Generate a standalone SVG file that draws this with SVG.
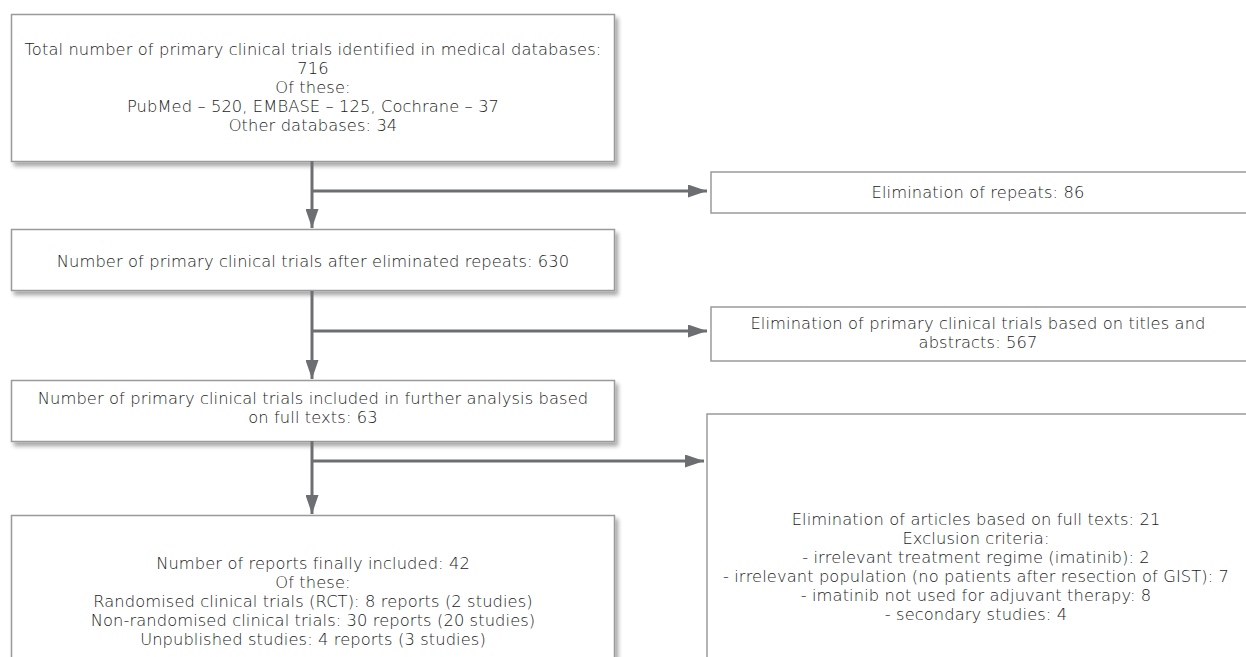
<svg xmlns="http://www.w3.org/2000/svg" width="1246" height="657" viewBox="0 0 1246 657">
<defs>
<filter id="sh" x="-5%" y="-10%" width="115%" height="130%">
<feGaussianBlur in="SourceAlpha" stdDeviation="2"/>
<feOffset dx="3" dy="4" result="b"/>
<feComponentTransfer><feFuncA type="linear" slope="0.35"/></feComponentTransfer>
<feMerge><feMergeNode/><feMergeNode in="SourceGraphic"/></feMerge>
</filter>
<marker id="ah" markerWidth="19" markerHeight="13" refX="19" refY="6.5" orient="auto" markerUnits="userSpaceOnUse">
<path d="M0,0 L19,6.5 L0,13 Z" fill="#6d6e71"/>
</marker>
<style>
.box{fill:#fff;stroke:#9a9a9a;stroke-width:1.5}
.t{font-family:"DejaVu Sans","Liberation Sans",sans-serif;font-weight:200;font-size:16.3px;letter-spacing:0.1px;fill:#1a1a1a;text-anchor:middle}
.c{fill:none;stroke:#6d6e71;stroke-width:3}
</style>
</defs>
<rect width="1246" height="657" fill="#fff"/>
<g id="n1">
<rect class="box" x="11.5" y="14.5" width="603" height="147" filter="url(#sh)"/>
<text class="t" x="313" y="55">Total number of primary clinical trials identified in medical databases:</text>
<text class="t" x="313" y="74">716</text>
<text class="t" x="313" y="93">Of these:</text>
<text class="t" x="313" y="112">PubMed – 520, EMBASE – 125, Cochrane – 37</text>
<text class="t" x="313" y="131">Other databases: 34</text>
</g>
<g id="r1">
<rect class="box" x="711" y="172" width="540" height="41"/>
<text class="t" x="978" y="198">Elimination of repeats: 86</text>
</g>
<g id="n2">
<rect class="box" x="11.5" y="229.5" width="603" height="61" filter="url(#sh)"/>
<text class="t" x="313" y="267">Number of primary clinical trials after eliminated repeats: 630</text>
</g>
<g id="r2">
<rect class="box" x="711" y="307" width="540" height="54"/>
<text class="t" x="978" y="329">Elimination of primary clinical trials based on titles and</text>
<text class="t" x="978" y="348">abstracts: 567</text>
</g>
<g id="n3">
<rect class="box" x="11.5" y="380.5" width="603" height="61" filter="url(#sh)"/>
<text class="t" x="313" y="404">Number of primary clinical trials included in further analysis based</text>
<text class="t" x="313" y="423">on full texts: 63</text>
</g>
<g id="r3">
<rect class="box" x="707" y="414" width="545" height="250"/>
<text class="t" x="976" y="525">Elimination of articles based on full texts: 21</text>
<text class="t" x="976" y="544">Exclusion criteria:</text>
<text class="t" x="976" y="563">- irrelevant treatment regime (imatinib): 2</text>
<text class="t" x="976" y="582">- irrelevant population (no patients after resection of GIST): 7</text>
<text class="t" x="976" y="601">- imatinib not used for adjuvant therapy: 8</text>
<text class="t" x="976" y="620">- secondary studies: 4</text>
</g>
<g id="n4">
<rect class="box" x="11.5" y="515.5" width="603" height="150" filter="url(#sh)"/>
<text class="t" x="313" y="569">Number of reports finally included: 42</text>
<text class="t" x="313" y="588">Of these:</text>
<text class="t" x="313" y="607">Randomised clinical trials (RCT): 8 reports (2 studies)</text>
<text class="t" x="313" y="626">Non-randomised clinical trials: 30 reports (20 studies)</text>
<text class="t" x="313" y="645">Unpublished studies: 4 reports (3 studies)</text>
</g>
<g id="connectors">
<path class="c" d="M312,161 V228" marker-end="url(#ah)"/>
<path class="c" d="M312,191 H707" marker-end="url(#ah)"/>
<path class="c" d="M312,291 V379" marker-end="url(#ah)"/>
<path class="c" d="M312,331 H707" marker-end="url(#ah)"/>
<path class="c" d="M312,441 V514" marker-end="url(#ah)"/>
<path class="c" d="M312,461 H704" marker-end="url(#ah)"/>
</g>
</svg>
